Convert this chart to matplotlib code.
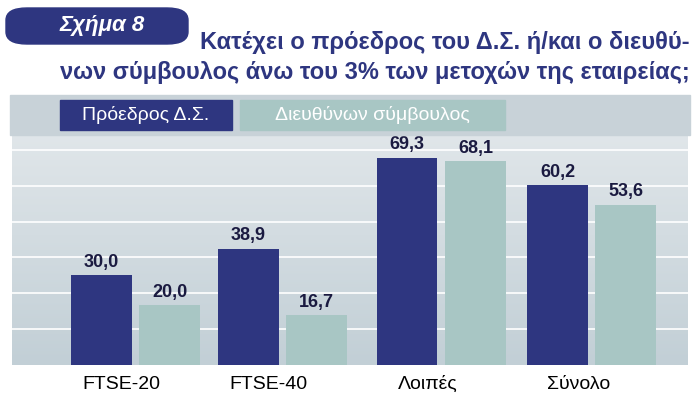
import matplotlib
matplotlib.use("Agg")
import matplotlib.pyplot as plt
from matplotlib.patches import FancyBboxPatch
import numpy as np

categories = ["FTSE-20", "FTSE-40", "Λοιπές", "Σύνολο"]
president = [30.0, 38.9, 69.3, 60.2]
ceo = [20.0, 16.7, 68.1, 53.6]
series_names = ["Πρόεδρος Δ.Σ.", "Διευθύνων σύμβουλος"]

navy = "#2e3680"
teal = "#a8c6c4"
plt.rcParams['font.family'] = ['Liberation Sans', 'DejaVu Sans']

W, H = 698, 405
fig = plt.figure(figsize=(W/100, H/100), dpi=100)
fig.patch.set_facecolor("white")

ax = fig.add_axes([12/W, 40/H, 676/W, 260/H])
ax.set_xlim(0, 4)
ax.set_ylim(0, 87)
grad = np.linspace(0, 1, 100).reshape(-1, 1)
ax.imshow(grad, extent=[0, 4, 0, 87], aspect='auto', origin='lower',
          cmap=matplotlib.colors.LinearSegmentedColormap.from_list("g", ["#c2cfd6", "#e4e9ec"]), zorder=0)
for y in [12, 24, 36, 48, 60, 72]:
    ax.axhline(y, color="white", lw=1.2, zorder=1)
x = np.array([0.73, 1.60, 2.54, 3.43])
bw = 0.36
gap = 0.045
xa = x - bw/2 - gap/2
xb = x + bw/2 + gap/2
ax.bar(xa, president, bw, color=navy, zorder=2)
ax.bar(xb, ceo, bw, color=teal, zorder=2)
for xs, vals in ((xa, president), (xb, ceo)):
    for xi, v in zip(xs, vals):
        ax.text(xi, v + 1.5, f"{v:.1f}".replace(".", ","), ha="center", va="bottom",
                fontsize=13, fontweight="bold", color="#1a1a40", zorder=3)
ax.set_xticks(x - 0.08)
ax.set_xticklabels(categories, fontsize=14)
ax.tick_params(length=0, pad=8)
for s in ax.spines.values():
    s.set_visible(False)
ax.set_yticks([])

# header
fig.patches.append(FancyBboxPatch((6/W, 1-44/H), 182/W, 36/H, boxstyle="round,pad=0,rounding_size=0.03",
                                  transform=fig.transFigure, color=navy))
fig.text(60/W, 1-26/H, "Σχήμα 8", color="white", fontsize=16, fontweight="bold", style="italic", va="center")
fig.text(690/W, 1-42/H, "Κατέχει ο πρόεδρος του Δ.Σ. ή/και ο διευθύ-", color=navy,
         fontsize=17, fontweight="bold", ha="right", va="center")
fig.text(690/W, 1-72/H, "νων σύμβουλος άνω του 3% των μετοχών της εταιρείας;", color=navy,
         fontsize=17, fontweight="bold", ha="right", va="center")
# legend strip
fig.patches.append(plt.Rectangle((10/W, 1-135/H), 680/W, 40/H, transform=fig.transFigure,
                                 color="#c8d2d8", zorder=0))
fig.patches.append(plt.Rectangle((60/W, 1-130/H), 172/W, 30/H, transform=fig.transFigure, color=navy))
fig.text(146/W, 1-115/H, series_names[0], color="white", fontsize=14, ha="center", va="center")
fig.patches.append(plt.Rectangle((240/W, 1-130/H), 265/W, 30/H, transform=fig.transFigure, color=teal))
fig.text(372/W, 1-115/H, series_names[1], color="white", fontsize=14, ha="center", va="center")

fig.savefig("out.png", dpi=100)
